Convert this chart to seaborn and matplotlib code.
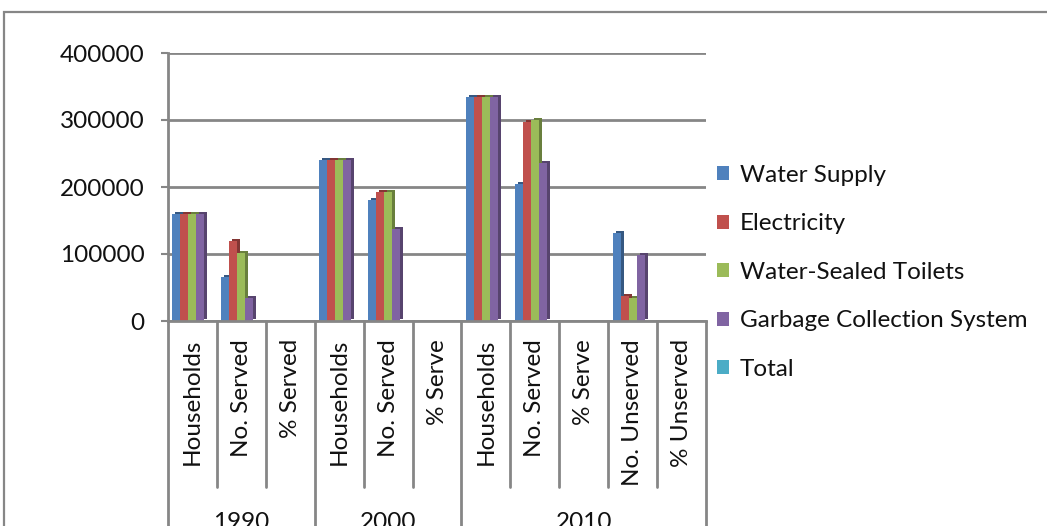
import numpy as np
import pandas as pd
import seaborn as sns
import matplotlib.pyplot as plt
import matplotlib.transforms as mtransforms
from matplotlib.patches import Patch, Rectangle
from matplotlib.lines import Line2D

# ---- data -------------------------------------------------------------
years = ["1990", "2000", "2010"]
year_spans = [3, 3, 5]
categories = ["Households", "No. Served", "% Served",
              "Households", "No. Served", "% Serve",
              "Households", "No. Served", "% Serve", "No. Unserved", "% Unserved"]
series = ["Water Supply", "Electricity", "Water-Sealed Toilets",
          "Garbage Collection System", "Total"]
water_supply = [160000, 66000, 41, 240000, 181000, 75, 335000, 204000, 61, 131000, 39]
electricity = [160000, 120000, 75, 240000, 193000, 80, 335000, 297000, 89, 38000, 11]
toilets = [160000, 102000, 64, 240000, 193000, 80, 335000, 300000, 90, 35000, 10]
garbage = [160000, 34000, 21, 240000, 138000, 57, 335000, 236000, 70, 99000, 30]
total = [np.nan, np.nan, np.nan, np.nan, np.nan, np.nan,
         np.nan, np.nan, np.nan, np.nan, np.nan]
y_ticks = [0, 100000, 200000, 300000, 400000]
colors = ["#4F81BD", "#C0504D", "#9BBB59", "#8064A2", "#4BACC6"]

# ---- long-form table --------------------------------------------------
slots = [f"c{i}" for i in range(len(categories))]
rows = []
for name, vals in zip(series, [water_supply, electricity, toilets, garbage, total]):
    for slot, v in zip(slots, vals):
        rows.append({"slot": slot, "series": name, "value": v})
df = pd.DataFrame(rows)

sns.set_theme(style="white")
plt.rcParams["font.family"] = ["Lato", "DejaVu Sans"]

W, H = 1047, 526
FS = 17.5
TXT = "#111111"
fig = plt.figure(figsize=(W / 100, H / 100), dpi=100)
fig.patch.set_facecolor("white")

ax_left, ax_right, ax_top, ax_bottom = 168 / W, 706 / W, 1 - 53 / H, 1 - 321 / H
ax = fig.add_axes([ax_left, ax_bottom, ax_right - ax_left, ax_top - ax_bottom])

grey = "#868686"

sns.barplot(data=df, x="slot", y="value", hue="series", order=slots,
            hue_order=series, palette=colors, width=0.82, saturation=1,
            edgecolor="none", linewidth=0, legend=False, ax=ax)

# shallow 3D depth: a darker copy of each bar pushed up and to the right
depth = mtransforms.ScaledTranslation(3 / 100, 2 / 100, fig.dpi_scale_trans)
for bar in list(ax.patches):
    h = bar.get_height()
    if not np.isfinite(h):
        continue
    r, g, b, _ = bar.get_facecolor()
    back = Rectangle((bar.get_x(), bar.get_y()), bar.get_width(), h,
                     facecolor=(r * 0.68, g * 0.68, b * 0.68), edgecolor="none",
                     transform=ax.transData + depth, zorder=bar.get_zorder() - 0.1)
    ax.add_patch(back)

ax.set_xlim(-0.5, len(categories) - 0.5)
ax.set_ylim(0, 400000)
ax.set_yticks(y_ticks)
ax.set_yticklabels([str(t) for t in y_ticks], fontsize=FS, color=TXT)
ax.set_xticks([])
ax.set_xlabel("")
ax.set_ylabel("")
ax.tick_params(axis="y", which="major", left=True, length=5, width=1.5,
               color=grey, pad=12)
ax.set_axisbelow(True)
ax.yaxis.grid(True, color=grey, linewidth=2)
for side in ["top", "right"]:
    ax.spines[side].set_visible(False)
for side in ["left", "bottom"]:
    ax.spines[side].set_color(grey)
    ax.spines[side].set_linewidth(2)

# ---- multi-level category axis ----------------------------------------
blend = mtransforms.blended_transform_factory(ax.transData, fig.transFigure)
short_bottom = 1 - 487 / H
year_edges = np.cumsum([0] + year_spans) - 0.5
for bnd in np.arange(-0.5, len(categories), 1.0):
    y_end = -0.05 if np.any(np.isclose(year_edges, bnd)) else short_bottom
    fig.add_artist(Line2D([bnd, bnd], [ax_bottom, y_end], transform=blend,
                          color=grey, linewidth=2, clip_on=False))

for i, label in enumerate(categories):
    fig.text(i, 1 - 339 / H, label, transform=blend, rotation=90,
             ha="center", va="top", fontsize=FS, color=TXT)

for yr, lo, hi in zip(years, year_edges[:-1], year_edges[1:]):
    fig.text((lo + hi) / 2, 1 - 512 / H, yr, transform=blend,
             ha="center", va="top", fontsize=FS, color=TXT)

# ---- legend -----------------------------------------------------------
handles = [Patch(facecolor=c, edgecolor="none") for c in colors]
fig.legend(handles, series, loc="upper left", bbox_to_anchor=(717 / W, 1 - 165 / H),
           frameon=False, fontsize=FS, handlelength=0.5, handleheight=0.5,
           handletextpad=0.45, labelspacing=1.13, borderpad=0, borderaxespad=0,
           labelcolor=TXT)

# chart-area border
fig.add_artist(Rectangle((4 / W, -0.2), 1.2, 1 - 12 / H + 0.2, transform=fig.transFigure,
                         facecolor="none", edgecolor=grey, linewidth=1.6, clip_on=False))

fig.savefig("out.png", dpi=100)
